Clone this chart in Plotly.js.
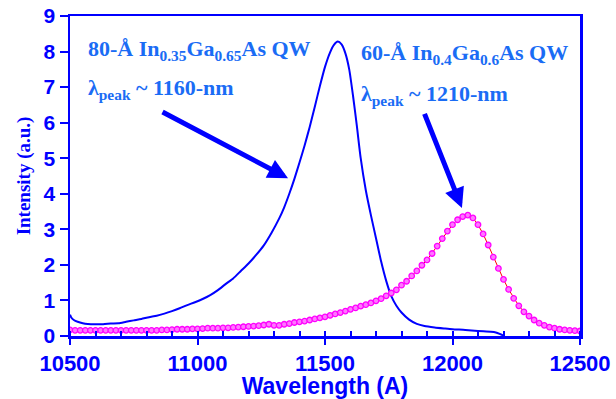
<!DOCTYPE html>
<html>
<head>
<meta charset="utf-8">
<script src="https://cdn.plot.ly/plotly-3.0.1.min.js"></script>
<style>
  html, body { margin: 0; padding: 0; background: #ffffff; }
  #chart { width: 616px; height: 399px; }
</style>
</head>
<body>
<div id="chart"></div>
<script>
// 80-Å In0.35Ga0.65As QW photoluminescence spectrum
const qw80Wavelength = [
  10500, 10505, 10515, 10530, 10550, 10570, 10600, 10630, 10660, 10690,
  10720, 10750, 10780, 10810, 10840, 10870, 10900, 10930, 10960, 10990,
  11020, 11050, 11080, 11110, 11140, 11170, 11200, 11230, 11260, 11290,
  11320, 11340, 11360, 11380, 11400, 11420, 11440, 11460, 11480, 11500,
  11520, 11535, 11550, 11565, 11580, 11595, 11610, 11625, 11640, 11660,
  11680, 11700, 11720, 11740, 11760, 11780, 11800, 11830, 11860, 11890,
  11930, 11970, 12000, 12050, 12100, 12150, 12170, 12185, 12200
];
const qw80Intensity = [
  0.60, 0.52, 0.45, 0.40, 0.36, 0.34, 0.33, 0.33, 0.35, 0.36,
  0.40, 0.44, 0.48, 0.53, 0.57, 0.63, 0.70, 0.78, 0.87, 0.95,
  1.04, 1.15, 1.29, 1.46, 1.62, 1.83, 2.04, 2.28, 2.55, 2.90,
  3.30, 3.62, 4.00, 4.42, 4.88, 5.36, 5.88, 6.45, 7.03, 7.57,
  7.98, 8.19, 8.28, 8.20, 7.95, 7.50, 6.75, 5.90, 5.00, 4.10,
  3.40, 2.75, 2.10, 1.55, 1.12, 0.85, 0.66, 0.46, 0.34, 0.28,
  0.24, 0.21, 0.19, 0.17, 0.14, 0.12, 0.10, 0.06, 0.01
];

// 60-Å In0.4Ga0.6As QW spectrum, sampled every 20 Å
const qw60Wavelength = [
  10500, 10520, 10540, 10560, 10580, 10600, 10620, 10640, 10660, 10680,
  10700, 10720, 10740, 10760, 10780, 10800, 10820, 10840, 10860, 10880,
  10900, 10920, 10940, 10960, 10980, 11000, 11020, 11040, 11060, 11080,
  11100, 11120, 11140, 11160, 11180, 11200, 11220, 11240, 11260, 11280,
  11300, 11320, 11340, 11360, 11380, 11400, 11420, 11440, 11460, 11480,
  11500, 11520, 11540, 11560, 11580, 11600, 11620, 11640, 11660, 11680,
  11700, 11720, 11740, 11760, 11780, 11800, 11820, 11840, 11860, 11880,
  11900, 11920, 11940, 11960, 11980, 12000, 12020, 12040, 12060, 12080,
  12100, 12120, 12140, 12160, 12180, 12200, 12220, 12240, 12260, 12280,
  12300, 12320, 12340, 12360, 12380, 12400, 12420, 12440, 12460, 12480,
  12500
];
const qw60Intensity = [
  0.17, 0.16, 0.16, 0.16, 0.16, 0.16, 0.16, 0.16, 0.16, 0.16,
  0.16, 0.16, 0.16, 0.16, 0.16, 0.16, 0.16, 0.16, 0.17, 0.17,
  0.18, 0.19, 0.19, 0.19, 0.20, 0.20, 0.21, 0.22, 0.22, 0.22,
  0.23, 0.23, 0.24, 0.25, 0.26, 0.27, 0.28, 0.29, 0.31, 0.33,
  0.30, 0.30, 0.33, 0.35, 0.38, 0.40, 0.42, 0.45, 0.48, 0.51,
  0.54, 0.58, 0.62, 0.66, 0.70, 0.75, 0.79, 0.84, 0.88, 0.93,
  0.99, 1.05, 1.13, 1.21, 1.30, 1.43, 1.54, 1.69, 1.83, 1.99,
  2.14, 2.32, 2.53, 2.74, 2.95, 3.13, 3.27, 3.36, 3.40, 3.32,
  3.13, 2.87, 2.56, 2.22, 1.90, 1.59, 1.31, 1.06, 0.85, 0.68,
  0.56, 0.45, 0.36, 0.30, 0.25, 0.22, 0.19, 0.17, 0.16, 0.15,
  0.14
];

// axis tick labels
const xTickValues = [10500, 11000, 11500, 12000, 12500];
const xTickLabels = ['10500', '11000', '11500', '12000', '12500'];
const yTickValues = [0, 1, 2, 3, 4, 5, 6, 7, 8, 9];
const yTickLabels = ['0', '1', '2', '3', '4', '5', '6', '7', '8', '9'];

const labelBlue = '#1a6cf5';
const axisBlue = '#0000ff';
const sans = '"Liberation Sans", Arial, sans-serif';
const serif = '"Liberation Serif", "Times New Roman", serif';

const traces = [
  {
    x: qw80Wavelength, y: qw80Intensity,
    type: 'scatter', mode: 'lines',
    line: { color: axisBlue, width: 2, shape: 'spline', smoothing: 0.6 },
    hoverinfo: 'skip'
  },
  {
    x: qw60Wavelength, y: qw60Intensity,
    type: 'scatter', mode: 'lines+markers',
    line: { color: '#ff0000', width: 1 },
    marker: { symbol: 'circle', size: 5.5, color: '#ff77ff',
              line: { color: '#ff00ff', width: 1.3 } },
    hoverinfo: 'skip'
  }
];

const serifBold = { family: serif, size: 22, color: labelBlue };

const layout = {
  width: 616, height: 399,
  margin: { l: 70, r: 36, t: 16, b: 63 },
  paper_bgcolor: '#ffffff', plot_bgcolor: '#ffffff',
  showlegend: false,
  font: { family: sans, color: axisBlue },
  xaxis: {
    range: [10500, 12500],
    tickmode: 'array', tickvals: xTickValues,
    ticktext: xTickLabels.map(t => '<b>' + t + '</b>'),
    showgrid: false, zeroline: false,
    showline: true, linecolor: axisBlue, linewidth: 2.5, mirror: true,
    ticks: 'outside', ticklen: 6, tickwidth: 2, tickcolor: axisBlue,
    minor: { tickmode: 'linear', tick0: 10500, dtick: 100, ticks: 'inside', ticklen: 5,
             tickwidth: 2, tickcolor: axisBlue, showgrid: false },
    tickfont: { family: sans, size: 22, color: axisBlue },
    title: { text: '<b>Wavelength (A)</b>', standoff: 8,
             font: { family: sans, size: 23, color: axisBlue } }
  },
  yaxis: {
    range: [0, 9],
    tickmode: 'array', tickvals: yTickValues,
    ticktext: yTickLabels.map(t => '<b>' + t + '</b>'),
    showgrid: false, zeroline: false,
    showline: true, linecolor: axisBlue, linewidth: 2.5, mirror: true,
    ticks: 'outside', ticklen: 8, tickwidth: 2, tickcolor: axisBlue,
    tickfont: { family: sans, size: 21, color: axisBlue },
    title: { text: '<b>Intensity (a.u.)</b>', standoff: 8,
             font: { family: serif, size: 19, color: axisBlue } }
  },
  annotations: [
    { xref: 'x', yref: 'y', x: 10563, y: 8.05, xanchor: 'left', yanchor: 'middle',
      text: '<b>80-Å In<sub>0.35</sub>Ga<sub>0.65</sub>As QW</b>', showarrow: false, font: serifBold },
    { xref: 'x', yref: 'y', x: 10563, y: 6.95, xanchor: 'left', yanchor: 'middle',
      text: '<b>λ<sub>peak</sub> ~ 1160-nm</b>', showarrow: false, font: serifBold },
    { xref: 'x', yref: 'y', x: 11633, y: 7.92, xanchor: 'left', yanchor: 'middle',
      text: '<b>60-Å In<sub>0.4</sub>Ga<sub>0.6</sub>As QW</b>', showarrow: false, font: serifBold },
    { xref: 'x', yref: 'y', x: 11633, y: 6.78, xanchor: 'left', yanchor: 'middle',
      text: '<b>λ<sub>peak</sub> ~ 1210-nm</b>', showarrow: false, font: serifBold },
    { xref: 'x', yref: 'y', x: 11355, y: 4.44, axref: 'x', ayref: 'y', ax: 10857, ay: 6.32,
      text: '', showarrow: true, arrowhead: 2, arrowsize: 0.8, arrowwidth: 5, arrowcolor: axisBlue },
    { xref: 'x', yref: 'y', x: 12037, y: 3.60, axref: 'x', ayref: 'y', ax: 11888, ay: 6.29,
      text: '', showarrow: true, arrowhead: 2, arrowsize: 0.8, arrowwidth: 5, arrowcolor: axisBlue }
  ]
};

Plotly.newPlot('chart', traces, layout, { displayModeBar: false, staticPlot: true });
</script>
</body>
</html>
